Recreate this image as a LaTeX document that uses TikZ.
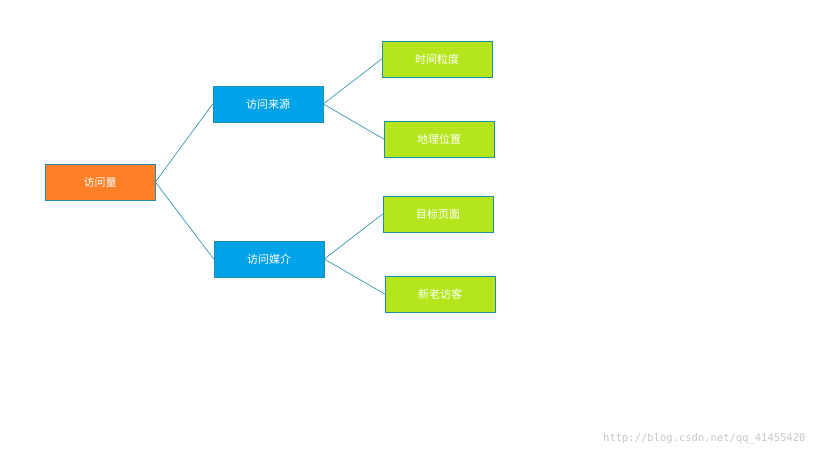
\documentclass[tikz,border=0pt]{standalone}
\usepackage{fontspec}
\newfontfamily\cjk{Noto Sans CJK SC}
\newfontfamily\monof{DejaVu Sans Mono}
\definecolor{org}{HTML}{FF7F27}
\definecolor{blu}{HTML}{00A2E8}
\definecolor{grn}{HTML}{B5E61D}
\definecolor{edge}{HTML}{1E8FA8}
\begin{document}
\begin{tikzpicture}[x=1pt,y=-1pt,
  box/.style={draw=edge,line width=0.6pt,minimum width=110pt,minimum height=36pt,inner sep=0pt,text=white,font=\cjk\fontsize{11}{13}\selectfont},
  conn/.style={draw=edge,line width=0.6pt}]
\useasboundingbox[fill=white] (0,0) rectangle (819,460);
\node[box,fill=org] (a) at (100,182) {访问量};
\node[box,fill=blu] (b) at (268,104) {访问来源};
\node[box,fill=blu] (c) at (269,259) {访问媒介};
\node[box,fill=grn] (d) at (437,59) {时间粒度};
\node[box,fill=grn] (e) at (439,139) {地理位置};
\node[box,fill=grn] (f) at (438,214) {目标页面};
\node[box,fill=grn] (g) at (440,294) {新老访客};
\draw[conn] (a.east) -- (b.west);
\draw[conn] (a.east) -- (c.west);
\draw[conn] (b.east) -- (d.west);
\draw[conn] (b.east) -- (e.west);
\draw[conn] (c.east) -- (f.west);
\draw[conn] (c.east) -- (g.west);
\node[text=black!22,font=\monof\fontsize{10.5}{12}\selectfont,anchor=east] (w) at (809,439) {http://blog.csdn.net/qq\_41455420};
\end{tikzpicture}
\end{document}
